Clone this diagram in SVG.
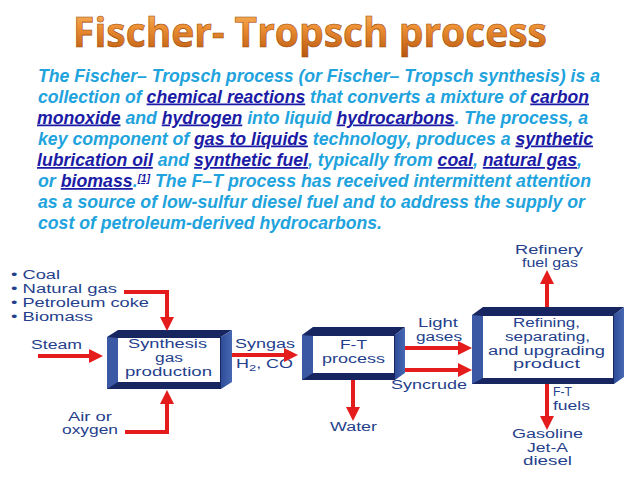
<svg xmlns="http://www.w3.org/2000/svg" width="638" height="479" viewBox="0 0 638 479">
<defs>
<linearGradient id="tg" x1="0" y1="0" x2="0" y2="1">
<stop offset="0" stop-color="#fbc57a"/>
<stop offset="0.45" stop-color="#ec8f33"/>
<stop offset="1" stop-color="#b4520c"/>
</linearGradient>
<linearGradient id="side" x1="0" y1="0" x2="1" y2="0">
<stop offset="0" stop-color="#2f4c98"/>
<stop offset="1" stop-color="#4868b4"/>
</linearGradient>
<marker id="ah" viewBox="0 0 14 14" refX="2" refY="7" markerWidth="14" markerHeight="14" markerUnits="userSpaceOnUse" orient="auto">
<path d="M0,0 L14,7 L0,14 z" fill="#e41c1c"/>
</marker>
</defs>
<style>
.title{font-family:"Open Sans","Liberation Sans",sans-serif;font-weight:700;font-size:42px;fill:url(#tg);stroke:#9a4608;stroke-width:0.6}
.para{font-family:"Liberation Sans",Arial,sans-serif;font-weight:700;font-style:italic;font-size:17.5px;fill:#21a3dd}
.lk{fill:#1b1ba6;text-decoration:underline}
.sup{fill:#1b1ba6;font-size:10px;text-decoration:underline}
.lbl{font-family:"Liberation Sans",Arial,sans-serif;font-size:12.5px;fill:#253f8c}
.navy{fill:#172561}
.panel{fill:#3a58a4}
.inner{fill:#ffffff}
.arr{fill:none;stroke:#e41c1c;stroke-width:4;marker-end:url(#ah)}
</style>
<rect width="638" height="479" fill="#ffffff"/>

<text class="title" x="73" y="47" textLength="474" lengthAdjust="spacingAndGlyphs">Fischer- Tropsch process</text>

<g id="paragraph">
<text class="para" x="38" y="82" textLength="562" lengthAdjust="spacingAndGlyphs">The Fischer– Tropsch process (or Fischer– Tropsch synthesis) is a</text>
<text class="para" x="38" y="102.5" textLength="551" lengthAdjust="spacingAndGlyphs">collection of <tspan class="lk">chemical reactions</tspan> that converts a mixture of <tspan class="lk">carbon</tspan></text>
<text class="para" x="37" y="123.5" textLength="551" lengthAdjust="spacingAndGlyphs"><tspan class="lk">monoxide</tspan> and <tspan class="lk">hydrogen</tspan> into liquid <tspan class="lk">hydrocarbons</tspan>. The process, a</text>
<text class="para" x="38" y="144.5" textLength="555" lengthAdjust="spacingAndGlyphs">key component of <tspan class="lk">gas to liquids</tspan> technology, produces a <tspan class="lk">synthetic</tspan></text>
<text class="para" x="37" y="166" textLength="545" lengthAdjust="spacingAndGlyphs"><tspan class="lk">lubrication oil</tspan> and <tspan class="lk">synthetic fuel</tspan>, typically from <tspan class="lk">coal</tspan>, <tspan class="lk">natural gas</tspan>,</text>
<text class="para" x="38" y="187" textLength="553" lengthAdjust="spacingAndGlyphs">or <tspan class="lk">biomass</tspan>.<tspan class="sup" baseline-shift="super">[1]</tspan> The F–T process has received intermittent attention</text>
<text class="para" x="38" y="208" textLength="547" lengthAdjust="spacingAndGlyphs">as a source of low-sulfur diesel fuel and to address the supply or</text>
<text class="para" x="38" y="229" textLength="344" lengthAdjust="spacingAndGlyphs">cost of petroleum-derived hydrocarbons.</text>
</g>

<g id="feedstocks">
<text class="lbl" x="11" y="279" textLength="49" lengthAdjust="spacingAndGlyphs">• Coal</text>
<text class="lbl" x="11" y="293" textLength="106" lengthAdjust="spacingAndGlyphs">• Natural gas</text>
<text class="lbl" x="11" y="307" textLength="138" lengthAdjust="spacingAndGlyphs">• Petroleum coke</text>
<text class="lbl" x="11" y="321" textLength="82" lengthAdjust="spacingAndGlyphs">• Biomass</text>
</g>
<g id="steam"><text class="lbl" x="31" y="349" textLength="51" lengthAdjust="spacingAndGlyphs">Steam</text></g>
<g id="air">
<text class="lbl" x="68" y="421" textLength="44" lengthAdjust="spacingAndGlyphs">Air or</text>
<text class="lbl" x="62" y="434" textLength="56" lengthAdjust="spacingAndGlyphs">oxygen</text>
</g>

<g id="synthesis">
<polygon class="navy" points="107,337 118,330 232,330 221,337"/>
<polygon fill="url(#side)" points="221,337 232,330 232,382 221,389"/>
<rect class="navy" x="107" y="337" width="114" height="52"/>
<polygon class="panel" points="107,337 118,338 118,382 107,389"/>
<rect class="inner" x="118" y="338" width="102" height="44"/>
<text class="lbl" x="128" y="348" textLength="79" lengthAdjust="spacingAndGlyphs">Synthesis</text>
<text class="lbl" x="155" y="362" textLength="28" lengthAdjust="spacingAndGlyphs">gas</text>
<text class="lbl" x="125" y="376" textLength="87" lengthAdjust="spacingAndGlyphs">production</text>
</g>

<g id="ftprocess">
<polygon class="navy" points="302,335 313,327 405,327 395,335"/>
<polygon fill="url(#side)" points="395,335 405,327 405,373 395,380"/>
<rect class="navy" x="302" y="335" width="93" height="45"/>
<polygon class="panel" points="302,335 313,336 313,373 302,380"/>
<rect class="inner" x="313" y="336" width="81" height="37"/>
<text class="lbl" x="340" y="349" textLength="27" lengthAdjust="spacingAndGlyphs">F-T</text>
<text class="lbl" x="322" y="363" textLength="63" lengthAdjust="spacingAndGlyphs">process</text>
</g>

<g id="refining">
<polygon class="navy" points="472,315 483,307 624,307 614,315"/>
<polygon fill="url(#side)" points="614,315 624,307 624,377 614,384"/>
<rect class="navy" x="472" y="315" width="142" height="69"/>
<polygon class="panel" points="472,315 483,316 483,378 472,384"/>
<rect class="inner" x="483" y="316" width="130" height="62"/>
<text class="lbl" x="513" y="327" textLength="67" lengthAdjust="spacingAndGlyphs">Refining,</text>
<text class="lbl" x="505" y="341" textLength="85" lengthAdjust="spacingAndGlyphs">separating,</text>
<text class="lbl" x="488" y="355" textLength="117" lengthAdjust="spacingAndGlyphs">and upgrading</text>
<text class="lbl" x="513" y="368" textLength="67" lengthAdjust="spacingAndGlyphs">product</text>
</g>

<g id="syngas-label">
<text class="lbl" x="235" y="348" textLength="60" lengthAdjust="spacingAndGlyphs">Syngas</text>
<text class="lbl" x="236" y="368" textLength="57" lengthAdjust="spacingAndGlyphs">H<tspan font-size="9" dy="3">2</tspan><tspan dy="-3">, CO</tspan></text>
</g>
<g id="water"><text class="lbl" x="330" y="431" textLength="47" lengthAdjust="spacingAndGlyphs">Water</text></g>
<g id="lightgases">
<text class="lbl" x="418" y="327" textLength="40" lengthAdjust="spacingAndGlyphs">Light</text>
<text class="lbl" x="416" y="341" textLength="46" lengthAdjust="spacingAndGlyphs">gases</text>
</g>
<g id="syncrude"><text class="lbl" x="391" y="389" textLength="76" lengthAdjust="spacingAndGlyphs">Syncrude</text></g>
<g id="fuelgas">
<text class="lbl" x="515" y="254" textLength="68" lengthAdjust="spacingAndGlyphs">Refinery</text>
<text class="lbl" x="522" y="267" textLength="56" lengthAdjust="spacingAndGlyphs">fuel gas</text>
</g>
<g id="ftfuels">
<text class="lbl" x="553" y="396" textLength="19" lengthAdjust="spacingAndGlyphs">F-T</text>
<text class="lbl" x="553" y="410" textLength="37" lengthAdjust="spacingAndGlyphs">fuels</text>
</g>
<g id="products">
<text class="lbl" x="512" y="438" textLength="71" lengthAdjust="spacingAndGlyphs">Gasoline</text>
<text class="lbl" x="527" y="452" textLength="41" lengthAdjust="spacingAndGlyphs">Jet-A</text>
<text class="lbl" x="523" y="465" textLength="49" lengthAdjust="spacingAndGlyphs">diesel</text>
</g>

<g id="connectors">
<path class="arr" d="M124,292 H167 V319"/>
<path class="arr" d="M38,356 H91"/>
<path class="arr" d="M125,432 H167 V402"/>
<path class="arr" d="M232,355 H286"/>
<path class="arr" d="M353,380 V409"/>
<path class="arr" d="M405,348 H460"/>
<path class="arr" d="M405,370 H460"/>
<path class="arr" d="M547,307 V282"/>
<path class="arr" d="M547,384 V418"/>
</g>
</svg>
